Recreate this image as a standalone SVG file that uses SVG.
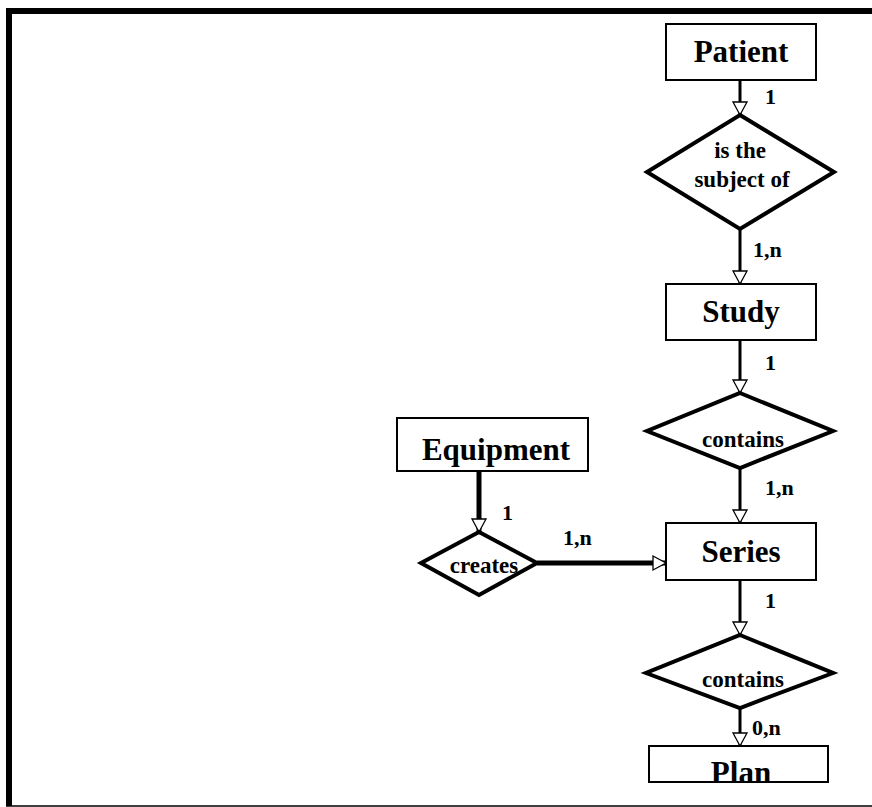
<svg xmlns="http://www.w3.org/2000/svg" width="872" height="807" viewBox="0 0 872 807">
<style>
.ent{fill:#fff;stroke:#000;stroke-width:2}
.rel{fill:#fff;stroke:#000;stroke-width:4;stroke-linejoin:miter}
.et{font-family:"Liberation Serif","Times New Roman",serif;font-weight:bold;font-size:31px;text-anchor:middle;fill:#000}
.rt{font-family:"Liberation Serif","Times New Roman",serif;font-weight:bold;font-size:23px;text-anchor:middle;fill:#000}
.ct{font-family:"Liberation Serif","Times New Roman",serif;font-weight:bold;font-size:22px;fill:#000}
.c{fill:none;stroke:#000;stroke-width:3;marker-end:url(#arr)}
.ck{fill:none;stroke:#000;stroke-width:5;marker-end:url(#arr)}
</style>
<defs>
<marker id="arr" markerUnits="userSpaceOnUse" markerWidth="16" markerHeight="16" refX="13" refY="7" orient="auto" overflow="visible">
<path d="M0,0 L13,7 L0,14 Z" fill="#fff" stroke="#000" stroke-width="1.3"/>
</marker>
</defs>
<rect width="872" height="807" fill="#fff"/>
<g id="frame">
<path d="M9,806 V11 H872" fill="none" stroke="#000" stroke-width="6"/>
<line x1="6" y1="806" x2="872" y2="806" stroke="#000" stroke-width="1.5"/>
</g>
<g id="connectors">
<path class="c" d="M740,80 V115"/>
<path class="c" d="M740,229 V284"/>
<path class="c" d="M740,340 V393"/>
<path class="c" d="M740,468 V523"/>
<path class="ck" d="M479,471 V532"/>
<path class="ck" d="M537,563 H666"/>
<path class="c" d="M740,580 V635"/>
<path class="c" d="M740,708 V746"/>
<text class="ct" x="765" y="104">1</text>
<text class="ct" x="753" y="257">1,n</text>
<text class="ct" x="765" y="370">1</text>
<text class="ct" x="765" y="495">1,n</text>
<text class="ct" x="502" y="520">1</text>
<text class="ct" x="563" y="545">1,n</text>
<text class="ct" x="765" y="608">1</text>
<text class="ct" x="752" y="735">0,n</text>
</g>
<g id="patient">
<rect class="ent" x="666" y="24" width="150" height="56"/>
<text class="et" x="741" y="62">Patient</text>
</g>
<g id="is-subject-of">
<polygon class="rel" points="740,115 834,172 740,229 647,172"/>
<text class="rt" x="740" y="158">is the</text>
<text class="rt" x="742" y="187">subject of</text>
</g>
<g id="study">
<rect class="ent" x="666" y="284" width="150" height="56"/>
<text class="et" x="741" y="322">Study</text>
</g>
<g id="contains1">
<polygon class="rel" points="740,393 833,431 740,468 647,431"/>
<text class="rt" x="743" y="447">contains</text>
</g>
<g id="series">
<rect class="ent" x="666" y="523" width="150" height="57"/>
<text class="et" x="741" y="562">Series</text>
</g>
<g id="equipment">
<rect class="ent" x="397" y="418" width="191" height="53"/>
<text class="et" x="496" y="460">Equipment</text>
</g>
<g id="creates">
<polygon class="rel" points="479,532 537,563 479,595 421,563"/>
<text class="rt" x="484" y="573">creates</text>
</g>
<g id="contains2">
<polygon class="rel" points="740,635 833,673 740,708 646,673"/>
<text class="rt" x="743" y="687">contains</text>
</g>
<g id="plan">
<rect class="ent" x="649" y="746" width="179" height="36"/>
<text class="et" x="741" y="783">Plan</text>
</g>
</svg>
